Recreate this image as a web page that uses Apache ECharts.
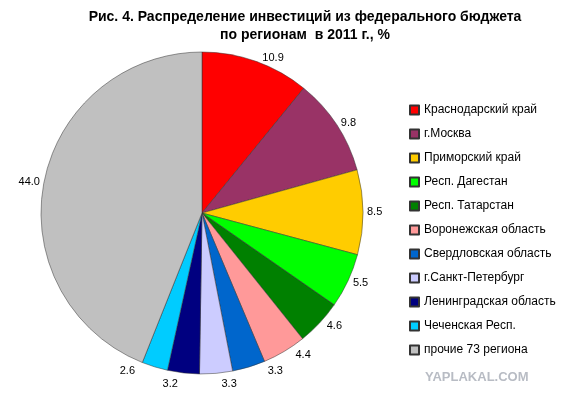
<!DOCTYPE html>
<html><head><meta charset="utf-8">
<script src="https://cdn.jsdelivr.net/npm/echarts@6/dist/echarts.min.js"></script>
<style>html,body{margin:0;padding:0;background:#fff}#c{width:584px;height:409px}</style>
</head><body><div id="c"></div>
<script>
const categories=["Краснодарский край","г.Москва","Приморский край","Респ. Дагестан","Респ. Татарстан","Воронежская область","Свердловская область","г.Санкт-Петербург","Ленинградская область","Чеченская Респ.","прочие 73 региона"];
const values=[10.9,9.8,8.5,5.5,4.6,4.4,3.3,3.3,3.2,2.6,44.0];
const colors=["#FF0000","#993366","#FFCC00","#00FF00","#008000","#FF9999","#0066CC","#CCCCFF","#000080","#00CCFF","#C0C0C0"];
const chart=echarts.init(document.getElementById('c'));
chart.setOption({
  animation:false,
  title:{text:"Рис. 4. Распределение инвестиций из федерального бюджета\nпо регионам  в 2011 г., %",left:300,textAlign:'center',top:3,
    textStyle:{fontFamily:'Liberation Sans',fontSize:14,fontWeight:'bold',color:'#000',lineHeight:18}},
  legend:{orient:'vertical',left:404,top:99,itemWidth:9,itemHeight:9,itemGap:12,icon:'rect',
    textStyle:{fontFamily:'Liberation Sans',fontSize:12,color:'#000'},data:categories},
  graphic:[{type:'text',left:425,top:371,style:{text:'YAPLAKAL.COM',fill:'#b8bcc4',font:'bold 13px Liberation Sans'}}],
  series:[{type:'pie',center:[202,213],radius:[0,161],startAngle:90,clockwise:true,
    data:categories.map((n,i)=>({name:n,value:values[i],itemStyle:{color:colors[i]}})),
    itemStyle:{borderColor:'#333',borderWidth:0.5},
    label:{show:true,position:'outside',formatter:p=>p.value.toFixed(1),fontFamily:'Liberation Sans',fontSize:11,color:'#000'},
    labelLine:{show:false,length:4,length2:0},emphasis:{disabled:true}}]
});
</script></body></html>
